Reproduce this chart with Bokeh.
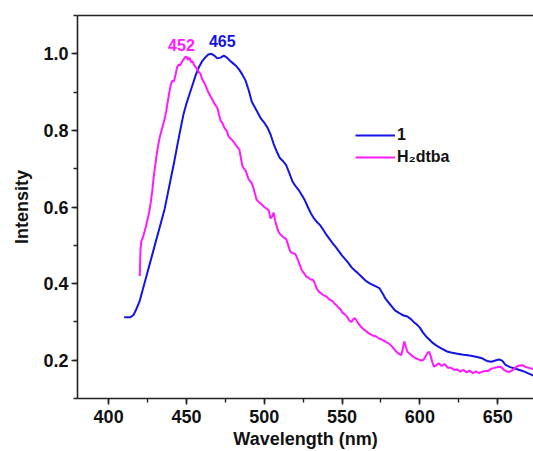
from bokeh.plotting import figure
from bokeh.models import (Range1d, SingleIntervalTicker, LinearAxis, FixedTicker,
                          Legend, LegendItem, Label, PrintfTickFormatter)
from bokeh.embed import file_html
from bokeh.resources import INLINE

# ---- data ----
blue_wl = [410, 414, 416, 418, 420, 422, 424, 426, 428, 430,
           432, 434, 436, 438, 440, 442, 444, 446, 448, 450,
           452, 454, 456, 458, 460, 462, 464, 466, 468, 470,
           472, 474, 476, 478, 480, 482, 484, 486, 488, 490,
           492, 494, 496, 498, 500, 502, 504, 506, 508, 510,
           512, 514, 516, 518, 520, 522, 524, 526, 528, 530,
           532, 534, 536, 538, 540, 542, 544, 546, 548, 550,
           552, 554, 556, 558, 560, 562, 564, 566, 568, 570,
           572, 574, 576, 578, 580, 582, 584, 586, 588, 590,
           592, 594, 596, 598, 600, 602, 604, 606, 608, 610,
           612, 614, 616, 618, 620, 624, 628, 632, 636, 640,
           643, 646, 649, 651, 653, 655, 658, 662, 666, 670,
           673]
blue_int = [.312, .312, .318, .335, .355, .385, .415, .445, .475, .505,
            .535, .565, .595, .635, .675, .715, .758, .80, .84, .87,
            .895, .92, .945, .965, .98, .99, .998, 1.0, .995, .988,
            .99, .995, .99, .982, .975, .968, .958, .945, .93, .905,
            .875, .86, .845, .83, .82, .808, .79, .765, .745, .728,
            .72, .71, .69, .668, .655, .645, .632, .618, .60, .583,
            .57, .56, .552, .54, .527, .516, .505, .495, .484, .473,
            .464, .454, .443, .435, .428, .42, .412, .405, .40, .396,
            .392, .388, .375, .36, .35, .34, .33, .325, .32, .316,
            .314, .308, .30, .293, .285, .272, .262, .254, .246, .24,
            .235, .23, .226, .222, .22, .217, .214, .212, .209, .205,
            .198, .196, .20, .202, .198, .188, .182, .177, .172, .165,
            .16]

mag_wl = [420, 420.5, 421, 422, 424, 426, 427, 428, 429, 430,
          431, 432, 433, 434, 435, 436, 437, 438, 439, 440,
          441, 442, 443, 444, 445, 446, 447, 448, 449, 450,
          451, 452, 453, 454, 455, 456, 457, 458, 459, 460,
          462, 464, 466, 468, 470, 471, 472, 473, 474, 475,
          476, 477, 478, 480, 482, 484, 485, 486, 487, 488,
          490, 492, 493, 494, 495, 496, 498, 500, 502, 503,
          504, 505, 506, 507, 508, 509, 510, 512, 514, 515,
          516, 517, 518, 520, 521, 522, 523, 524, 525, 526,
          527, 528, 530, 531, 532, 533, 534, 535, 536, 538,
          540, 542, 544, 545, 546, 548, 549, 550, 552, 553,
          554, 555, 556, 557, 558, 559, 560, 562, 564, 566,
          568, 570, 572, 574, 576, 578, 580, 582, 584, 585,
          586, 588, 589, 590, 591, 592, 594, 596, 598, 600,
          602, 603, 604, 605, 606, 607, 608, 609, 610, 612,
          614, 616, 618, 620, 622, 624, 626, 628, 630, 632,
          634, 636, 638, 640, 642, 644, 646, 648, 650, 652,
          654, 656, 658, 660, 662, 664, 666, 668, 670, 672,
          673]
mag_int = [.42, .49, .51, .52, .55, .585, .61, .64, .68, .71,
           .74, .765, .785, .80, .815, .83, .85, .875, .90, .92,
           .93, .928, .945, .965, .972, .97, .978, .985, .99, .993,
           .984, .99, .978, .98, .97, .965, .96, .952, .948, .935,
           .92, .90, .885, .87, .858, .84, .825, .82, .81, .803,
           .798, .785, .78, .772, .76, .75, .728, .706, .70, .695,
           .672, .662, .65, .635, .62, .615, .608, .60, .594, .59,
           .57, .575, .585, .565, .55, .537, .53, .522, .517, .505,
           .492, .482, .48, .477, .468, .458, .447, .436, .43, .425,
           .418, .416, .41, .411, .405, .395, .385, .38, .376, .37,
           .366, .358, .354, .348, .345, .336, .333, .325, .319, .315,
           .308, .302, .30, .305, .31, .306, .298, .288, .28, .274,
           .268, .264, .262, .256, .253, .248, .244, .236, .226, .222,
           .218, .213, .23, .249, .235, .222, .215, .208, .204, .20,
           .20, .205, .212, .22, .222, .21, .195, .183, .185, .192,
           .185, .19, .18, .18, .175, .176, .17, .175, .168, .173,
           .166, .171, .166, .17, .172, .172, .178, .18, .182, .183,
           .175, .17, .17, .175, .183, .186, .187, .182, .18, .178,
           .176]

series_labels = ["1", "H\u2082dtba"]
peak_labels = ["452", "465"]
peak_pos = [(446.8, 1.024), (473.0, 1.034)]

BLUE = "#1414e6"
MAG = "#ff1aff"
FONT = "Liberation Sans"

p = figure(width=533, height=451, output_backend="svg", toolbar_location=None,
           x_range=Range1d(380, 673), y_range=Range1d(0.1, 1.1),
           min_border_left=77, min_border_right=0, min_border_top=15,
           min_border_bottom=0)
p.outline_line_color = None
p.xgrid.visible = False
p.ygrid.visible = False
p.background_fill_color = "white"
p.border_fill_color = "white"

l1 = p.line(blue_wl, blue_int, line_color=BLUE, line_width=2)
l2 = p.line(mag_wl, mag_int, line_color=MAG, line_width=2)

for ax, interval in ((p.xaxis[0], 50), (p.yaxis[0], 0.2)):
    ax.ticker = SingleIntervalTicker(interval=interval, num_minor_ticks=2)
    ax.axis_line_width = 1.6
    ax.axis_line_color = "#222222"
    ax.major_tick_line_color = "#222222"
    ax.minor_tick_line_color = "#222222"
    ax.major_tick_line_width = 1.6
    ax.minor_tick_line_width = 1.4
    ax.major_tick_in = 0
    ax.major_tick_out = 6
    ax.minor_tick_in = 0
    ax.minor_tick_out = 4
    ax.major_label_text_font = FONT
    ax.major_label_text_font_style = "bold"
    ax.major_label_text_font_size = "18px"
    ax.major_label_text_color = "#111111"
    ax.axis_label_text_font = FONT
    ax.axis_label_text_font_style = "bold"
    ax.axis_label_text_font_size = "18px"
    ax.axis_label_text_color = "#111111"

p.yaxis[0].formatter = PrintfTickFormatter(format="%.1f")
p.xaxis[0].axis_label = "Wavelength (nm)"
p.xaxis[0].major_label_standoff = 5
p.xaxis[0].axis_label_standoff = 3
p.yaxis[0].axis_label = "Intensity"
p.yaxis[0].major_label_standoff = 3
p.yaxis[0].axis_label_standoff = 8

top = LinearAxis(ticker=FixedTicker(ticks=[]), major_label_text_font_size="0px",
                 major_tick_out=0, minor_tick_out=0, major_label_standoff=0,
                 axis_line_width=1.6, axis_line_color="#222222")
p.add_layout(top, "above")

legend = Legend(items=[LegendItem(label=series_labels[0], renderers=[l1]),
                       LegendItem(label=series_labels[1], renderers=[l2])],
                location=(278, 231), padding=0, margin=0, spacing=2,
                glyph_width=40, glyph_height=20, label_height=20,
                label_standoff=2, border_line_color=None,
                background_fill_alpha=0,
                label_text_font=FONT, label_text_font_style="bold",
                label_text_font_size="16px", label_text_color="#111111")
p.add_layout(legend)

for txt, (x, y), col in zip(peak_labels, peak_pos, [MAG, BLUE]):
    p.add_layout(Label(x=x, y=y, text=txt, text_align="center",
                       text_baseline="alphabetic", text_color=col,
                       text_font=FONT, text_font_style="bold",
                       text_font_size="16px"))

open("out.html", "w").write(file_html(p, INLINE))
